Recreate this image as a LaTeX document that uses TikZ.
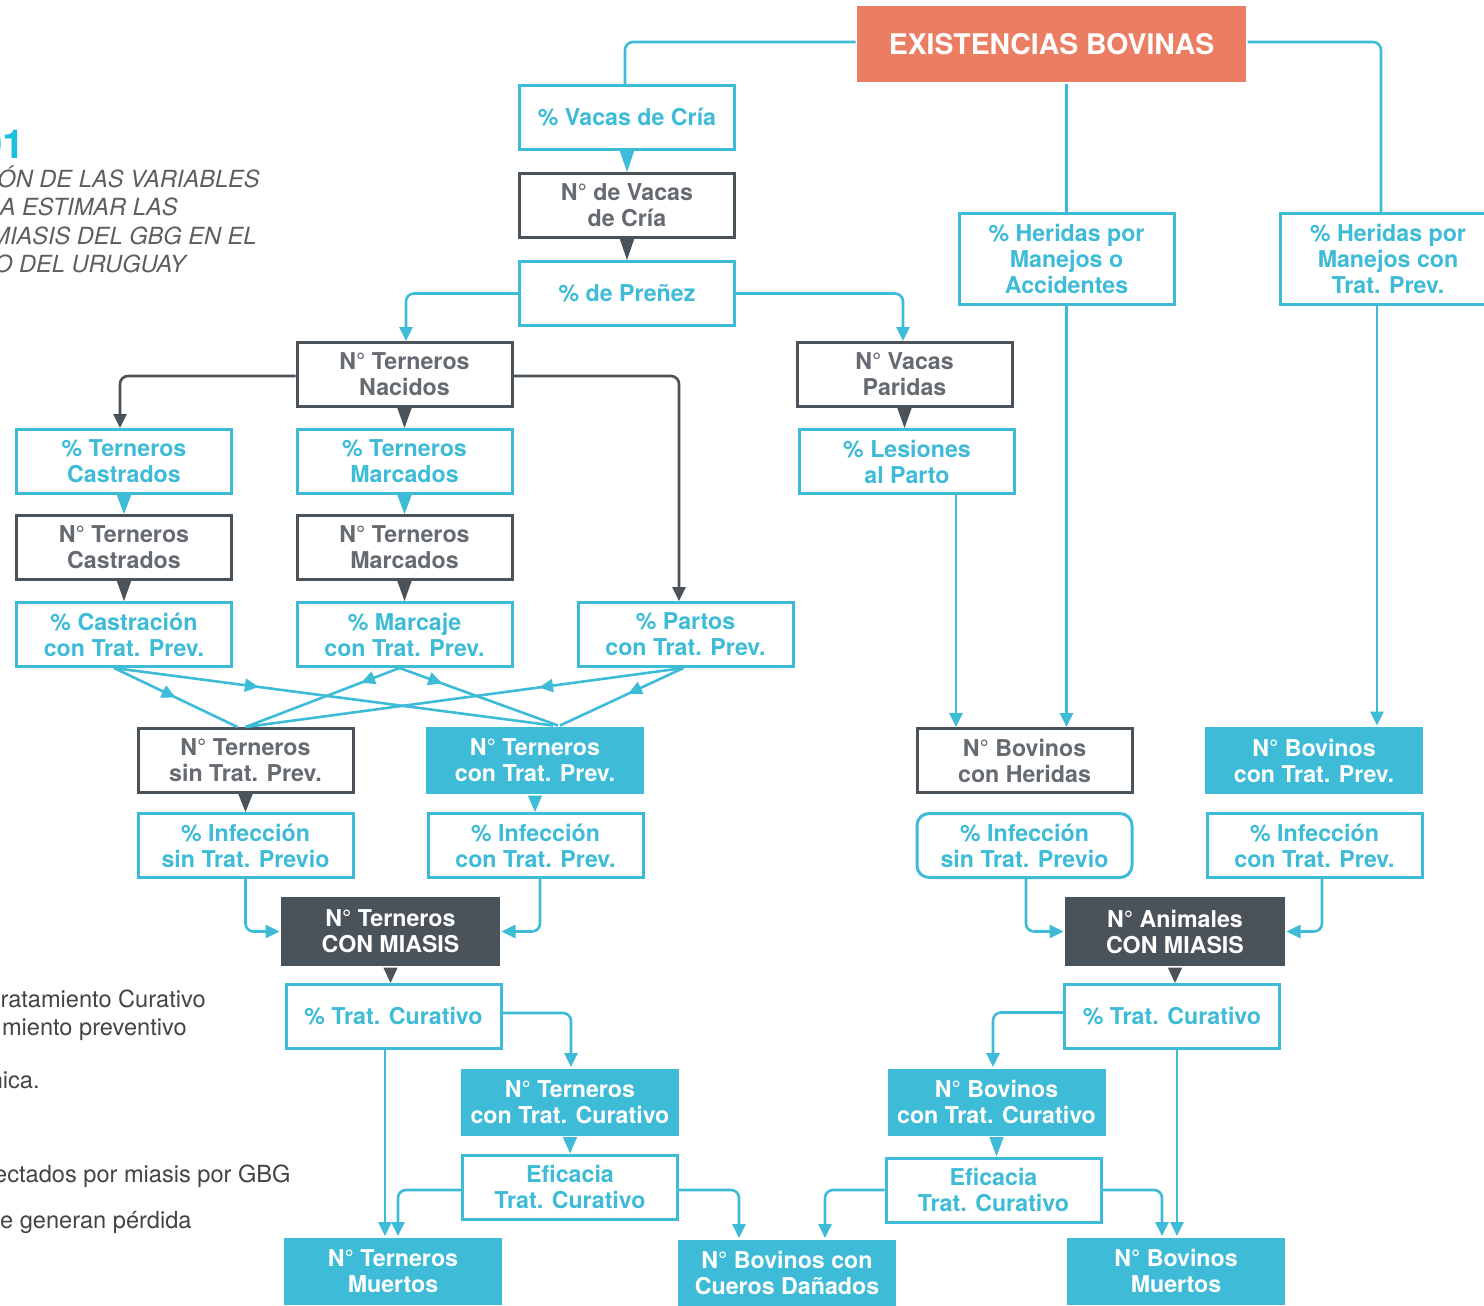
\documentclass[tikz,border=0pt]{standalone}
\usepackage{fontspec}
\setmainfont{TeX Gyre Heros}
\usetikzlibrary{arrows.meta,decorations.markings,calc}
\definecolor{cb}{HTML}{3EBBD7}
\definecolor{dk}{HTML}{4A525A}
\definecolor{gt}{HTML}{666B71}
\definecolor{org}{HTML}{EB7E62}
\definecolor{tg}{HTML}{5E5E5E}
\definecolor{lg}{HTML}{444444}
\definecolor{cy}{HTML}{1CC0DE}
\newcommand\stackarr[3]{%
  \path (#2.south) coordinate (stkA);
  \fill[#1] ([xshift=-3.6pt]stkA) -- ([xshift=3.6pt]stkA) -- (stkA |- #3.north) -- cycle;}
\begin{document}
\begin{tikzpicture}[x=0.5pt,y=-0.5pt,
 box/.style={inner sep=0pt, align=center, font=\fontsize{11.6}{13}\selectfont\bfseries, line width=1.5pt},
 pbox/.style={box, minimum width=107.5pt, minimum height=32pt, draw=cb, fill=white, text=cb},
 nbox/.style={box, minimum width=107.5pt, minimum height=32pt, draw=dk, fill=white, text=gt},
 fillbox/.style={box, minimum width=109pt, minimum height=33.5pt, fill=cb, text=white},
 darkbox/.style={box, minimum width=109.5pt, minimum height=34.5pt, fill=dk, text=white},
 conn/.style={line width=1.3pt, rounded corners=4pt},
 bc/.style={conn, draw=cb},
 dc/.style={conn, draw=dk},
 arr/.style={-{Triangle[length=7pt,width=6.5pt]}},
 midarrow/.style={postaction={decorate}, decoration={markings, mark=at position #1 with {\arrow{Triangle[length=7pt,width=6.5pt]}}}},
 ttl/.style={anchor=base east, text=tg, font=\fontsize{11.8}{13}\selectfont\itshape, inner sep=0pt},
 legtxt/.style={anchor=base east, text=lg, font=\fontsize{11.8}{13}\selectfont, inner sep=0pt}
]
\fill[white] (0,0) rectangle (1484,1306);
\useasboundingbox (0,0) rectangle (1484,1306);

% title and legend fragments
\node[anchor=base east, text=cy, font=\fontsize{20}{20}\selectfont\bfseries, inner sep=0pt] (n01) at (25,158) {01};
\node[ttl] (t1) at (260,187) {ÓN DE LAS VARIABLES};
\node[ttl] (t2) at (178,215) {A ESTIMAR LAS};
\node[ttl] (t3) at (257,244) {MIASIS DEL GBG EN EL};
\node[ttl] (t4) at (186,272) {O DEL URUGUAY};
\node[legtxt] (l1) at (206,1007) {ratamiento Curativo};
\node[legtxt] (l2) at (187,1035) {miento preventivo};
\node[legtxt] (l3) at (40,1088) {nica.};
\node[legtxt] (l4) at (291,1182) {ectados por miasis por GBG};
\node[legtxt] (l5) at (192,1228) {e generan pérdida};

% nodes
\node[box, fill=org, text=white, minimum width=194.5pt, minimum height=38pt, font=\fontsize{14.2}{16}\selectfont\bfseries] (ex) at (1051.5,44) {EXISTENCIAS BOVINAS};
\node[pbox] (vc) at (627,117.5) {\% Vacas de Cría};
\node[nbox] (nvc) at (627,205.5) {N° de Vacas\\de Cría};
\node[pbox] (pre) at (627,293.5) {\% de Preñez};
\node[pbox, minimum height=45.5pt] (hma) at (1066.5,259) {\% Heridas por\\Manejos o\\Accidentes};
\node[pbox, minimum height=45.5pt] (hmc) at (1388,259) {\% Heridas por\\Manejos con\\Trat. Prev.};
\node[nbox] (tn) at (404.5,374.5) {N° Terneros\\Nacidos};
\node[nbox] (vp) at (904.5,374.5) {N° Vacas\\Paridas};
\node[pbox] (tc) at (124,461.5) {\% Terneros\\Castrados};
\node[pbox] (tm) at (404.5,461.5) {\% Terneros\\Marcados};
\node[pbox] (lp) at (907,461.5) {\% Lesiones\\al Parto};
\node[nbox] (ntc) at (124,547.5) {N° Terneros\\Castrados};
\node[nbox] (ntm) at (404.5,547.5) {N° Terneros\\Marcados};
\node[pbox] (cas) at (124,634.5) {\% Castración\\con Trat. Prev.};
\node[pbox] (mar) at (404.5,634.5) {\% Marcaje\\con Trat. Prev.};
\node[pbox] (par) at (685.5,634.5) {\% Partos\\con Trat. Prev.};
\node[nbox] (sin) at (245.5,760.5) {N° Terneros\\sin Trat. Prev.};
\node[fillbox] (con) at (535,760.5) {N° Terneros\\con Trat. Prev.};
\node[nbox] (bh) at (1024.5,760.5) {N° Bovinos\\con Heridas};
\node[fillbox] (btp) at (1314,760.5) {N° Bovinos\\con Trat. Prev.};
\node[pbox] (isl) at (245.5,845.5) {\% Infección\\sin Trat. Previo};
\node[pbox] (icl) at (535.5,845.5) {\% Infección\\con Trat. Prev.};
\node[pbox, rounded corners=6pt] (isr) at (1024.5,845.5) {\% Infección\\sin Trat. Previo};
\node[pbox] (icr) at (1314.5,845.5) {\% Infección\\con Trat. Prev.};
\node[darkbox] (tcm) at (390.5,931.5) {N° Terneros\\CON MIASIS};
\node[darkbox, minimum width=110pt] (acm) at (1175,931.5) {N° Animales\\CON MIASIS};
\node[pbox] (tcl) at (393.5,1016.5) {\% Trat. Curativo};
\node[pbox] (tcr) at (1172,1016.5) {\% Trat. Curativo};
\node[fillbox] (ttc) at (570,1102) {N° Terneros\\con Trat. Curativo};
\node[fillbox] (btc) at (996.5,1102) {N° Bovinos\\con Trat. Curativo};
\node[pbox] (efl) at (570,1187) {Eficacia\\Trat. Curativo};
\node[pbox] (efr) at (993.5,1190) {Eficacia\\Trat. Curativo};
\node[fillbox] (tmu) at (393,1271) {N° Terneros\\Muertos};
\node[fillbox] (cue) at (787,1273) {N° Bovinos con\\Cueros Dañados};
\node[fillbox] (bmu) at (1176,1271) {N° Bovinos\\Muertos};

% stacked triangle connectors
\stackarr{cb}{vc}{nvc}
\stackarr{dk}{nvc}{pre}
\stackarr{dk}{tn}{tm}
\stackarr{dk}{vp}{lp}
\stackarr{cb}{tc}{ntc}
\stackarr{cb}{tm}{ntm}
\stackarr{dk}{ntc}{cas}
\stackarr{dk}{ntm}{mar}
\stackarr{dk}{sin}{isl}
\stackarr{cb}{con}{icl}
\stackarr{dk}{tcm}{tcl}
\stackarr{dk}{acm}{tcr}
\stackarr{cb}{ttc}{efl}
\stackarr{cb}{btc}{efr}

% top connectors
\draw[bc] ([yshift=1pt]ex.west) -| ([xshift=-1pt]vc.north);
\coordinate (exs) at (ex.south -| hma.north);
\draw[bc] (exs) -- (hma.north);
\coordinate (hmct) at ([xshift=-3.5pt]hmc.north);
\draw[bc] ([yshift=1pt]ex.east) -| (hmct);
\draw[bc, arr] (pre.west) -| ([xshift=0.75pt]tn.north);
\draw[bc, arr] (pre.east) -| ([xshift=-0.75pt]vp.north);
\draw[dc, arr] ([yshift=-0.75pt]tn.west) -| ([xshift=-2pt]tc.north);
\draw[dc, arr] ([yshift=-0.75pt]tn.east) -| ([xshift=-3.25pt]par.north);

% vertical long connectors
\coordinate (lps) at ([xshift=24.5pt]lp.south);
\draw[bc, arr] (lps) -- (lps |- bh.north);
\coordinate (hmas) at (hma.south);
\draw[bc, arr] (hmas) -- (hmas |- bh.north);
\coordinate (hmcs) at ([xshift=-5.5pt]hmc.south);
\draw[bc, arr] (hmcs) -- (hmcs |- btp.north);

% crossing connectors
\draw[bc, midarrow=0.5] ([xshift=-5pt]cas.south) -- ([xshift=-4pt]sin.north);
\draw[bc, midarrow=0.33] ([xshift=-5pt]cas.south) -- ([xshift=9pt]con.north);
\draw[bc, midarrow=0.25] ([xshift=-2.5pt]mar.south) -- ([xshift=0pt]sin.north);
\draw[bc, midarrow=0.27] ([xshift=-2.5pt]mar.south) -- ([xshift=11.5pt]con.north);
\draw[bc, midarrow=0.33] ([xshift=-1pt]par.south) -- ([xshift=0pt]sin.north);
\draw[bc, midarrow=0.45] ([xshift=-1pt]par.south) -- ([xshift=12.5pt]con.north);

% infection to miasis
\draw[bc, arr] (isl.south) |- (tcm.west);
\draw[bc, arr] ([xshift=2.25pt]icl.south) |- (tcm.east);
\draw[bc, arr] ([xshift=0.75pt]isr.south) |- (acm.west);
\draw[bc, arr] ([xshift=3.75pt]icr.south) |- (acm.east);

% curative left
\draw[bc, arr] ([yshift=1.75pt]tcl.east) -| ([xshift=0.5pt]ttc.north);
\coordinate (tcls) at ([xshift=-4.25pt]tcl.south);
\draw[bc, arr] (tcls) -- (tcls |- tmu.north);
\draw[bc, arr] ([yshift=-1.5pt]efl.west) -| ([xshift=2.5pt]tmu.north);
\draw[bc, arr] ([yshift=-1.5pt]efl.east) -| ([xshift=-24pt]cue.north);

% curative right
\draw[bc, arr] ([yshift=2pt]tcr.west) -| ([xshift=-1.75pt]btc.north);
\coordinate (tcrs) at ([xshift=2.5pt]tcr.south);
\draw[bc, arr] (tcrs) -- (tcrs |- bmu.north);
\draw[bc, arr] (efr.west) -| ([xshift=19pt]cue.north);
\draw[bc, arr] (efr.east) -| ([xshift=-7pt]bmu.north);
\end{tikzpicture}
\end{document}
